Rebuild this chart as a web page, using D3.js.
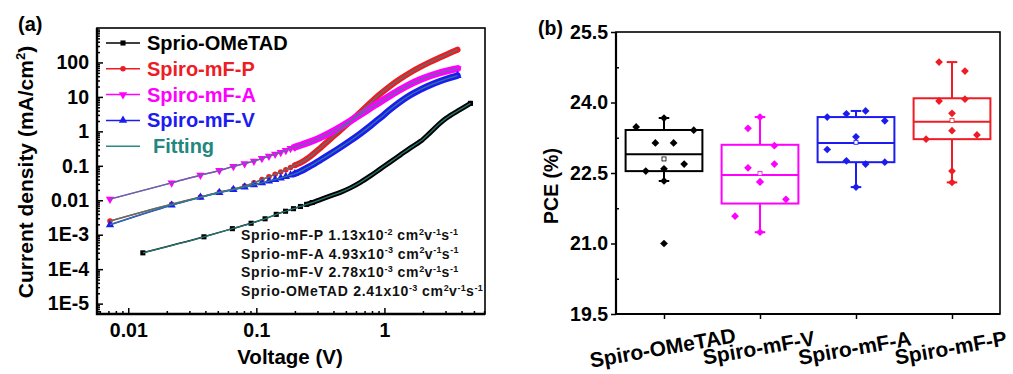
<!DOCTYPE html>
<html><head><meta charset="utf-8">
<script src="https://cdn.jsdelivr.net/npm/d3@7"></script>
<style>
body{margin:0;background:#fff;}
svg{display:block;font-family:"Liberation Sans",Arial,sans-serif;font-weight:bold;}
</style></head><body>
<svg id="c" width="1013" height="374"></svg>
<script>
// ---------- Panel (a) data: J-V curves (V in volts, J in mA/cm2) ----------
const seriesNames = ["Sprio-OMeTAD", "Spiro-mF-P", "Spiro-mF-A", "Spiro-mF-V"];
const seriesColors = ["#000000", "#ee1c24", "#ff00ff", "#1c1cf0"];
const markerShapes = ["square", "circle", "triangleDown", "triangleUp"];
const vOMeTAD = [0.013,0.039,0.065,0.091,0.117,0.143,0.169,0.195,0.221,0.247,0.273,0.3162,0.3786,0.4532,0.5425,0.6494,0.7774,0.9306,1.114,1.334,1.596,1.911,2.287,2.738,2.996,3.278,3.924,4.698];
const jOMeTAD = [2.98e-4,8.7e-4,1.5e-3,2.15e-3,2.9e-3,3.9e-3,4.8e-3,5.7e-3,6.6e-3,7.6e-3,8.6e-3,0.0105,0.0134,0.017,0.0229,0.0331,0.0511,0.0815,0.13,0.208,0.332,0.513,0.935,1.765,2.306,2.913,4.35,6.5];
const vSpiroMf = [0.0072,0.0218,0.0366,0.0514,0.0662,0.081,0.0958,0.1106,0.1254,0.1402,0.155,0.17,0.185,0.2,0.2207,0.2642,0.3162,0.3786,0.4532,0.5425,0.6494,0.7774,0.9306,1.114,1.334,1.596,1.911,2.287,2.738,3.278,3.72];
const jMfP = [0.0025,0.0077,0.0124,0.0172,0.021,0.026,0.032,0.04,0.048,0.057,0.066,0.077,0.09,0.104,0.1218,0.188,0.33,0.6,1.07,1.95,3.6,6.8,12.3,21,33.5,51,74,104,141,190,235];
const jMfA = [0.0108,0.032,0.0535,0.073,0.096,0.116,0.137,0.163,0.19,0.218,0.245,0.28,0.32,0.35,0.3946,0.4986,0.6588,0.919,1.341,2.009,3.066,4.72,7.27,10.99,16.33,23.4,31.8,41.2,50.7,60.1,66.5];
const jMfV = [0.00195,0.0072,0.0121,0.0168,0.0205,0.024,0.028,0.032,0.036,0.04,0.044,0.049,0.054,0.059,0.0691,0.099,0.147,0.2224,0.3423,0.5368,0.8646,1.443,2.498,4.363,7.285,11.31,16.36,22.21,28.83,36.08,41.75];
const xTickVals = [0.01, 0.1, 1];
const xTickLabels = ["0.01", "0.1", "1"];
const yTickVals = [1e-5, 1e-4, 1e-3, 0.01, 0.1, 1, 10, 100];
const yTickLabels = ["1E-5", "1E-4", "1E-3", "0.01", "0.1", "1", "10", "100"];
const mobLabels = ["Sprio-mF-P", "Sprio-mF-A", "Sprio-mF-V", "Sprio-OMeTAD"];
const mobMantissa = ["1.13", "4.93", "2.78", "2.41"];
const mobExponent = ["-2", "-3", "-3", "-3"];

// ---------- Panel (b) data: PCE box plots ----------
const groups = ["Spiro-OMeTAD", "Spiro-mF-V", "Spiro-mF-A", "Spiro-mF-P"];
const groupColors = ["#000000", "#ff00ff", "#1c1cf0", "#ee1c24"];
const pceOMeTAD = [23.48,23.67,23.41,23.14,23.14,22.54,22.59,22.69,22.33,21.0];
const pceMfV = [23.45,23.69,23.08,22.61,22.69,22.31,21.94,21.58,21.24,22.31];
const pceMfA = [23.69,23.76,23.82,23.61,23.27,23.0,22.76,22.69,22.73,22.2];
const pceMfP = [24.86,24.67,24.03,24.07,23.77,23.4,23.22,23.31,22.54,22.3];
const jitOMeTAD = [-0.29,0,0.31,-0.09,0.1,-0.19,0,0.21,0,0];
const jitMfV = [-0.125,0,0.15,-0.125,0.15,0,0.27,-0.26,0,0];
const jitMfA = [-0.3,-0.1,0.1,0.3,0,-0.3,-0.1,0.1,0.3,0];
const jitMfP = [-0.135,0.135,-0.135,0.135,0,0,-0.27,0.26,0,0];
const boxQ1 = [22.54, 21.85, 22.73, 23.22];
const boxMedian = [22.9, 22.46, 23.14, 23.59];
const boxQ3 = [23.415, 23.1, 23.69, 24.09];
const whiskerLow = [22.33, 21.24, 22.2, 22.3];
const whiskerHigh = [23.67, 23.69, 23.82, 24.86];
const pceTicks = [19.5, 21.0, 22.5, 24.0, 25.5];
const pceMinor = [20.25, 21.75, 23.25, 24.75];

const svg = d3.select("#c");

// ================= Panel (a) =================
const A = {l: 97, r: 485, t: 28, b: 314};
const x = d3.scaleLog().domain([0.0057, 6.1]).range([A.l, A.r]);
const y = d3.scaleLog().domain([5e-6, 1000]).range([A.b, A.t]);

svg.append("clipPath").attr("id", "clipA").append("rect")
  .attr("x", A.l).attr("y", A.t).attr("width", A.r - A.l).attr("height", A.b - A.t);

const xMinor = [];
[0.001, 0.01, 0.1, 1].forEach(d => { for (let k = 2; k <= 9; k++) { const v = d * k; if (v > 0.0057 && v < 6.1) xMinor.push(v); } });
const yMinor = [];
[1e-6, 1e-5, 1e-4, 1e-3, 0.01, 0.1, 1, 10, 100].forEach(d => { for (let k = 2; k <= 9; k++) { const v = d * k; if (v > 5e-6 && v < 1000) yMinor.push(v); } });

const gA = svg.append("g");
gA.append("g").attr("transform", `translate(${A.l},0)`)
  .call(d3.axisLeft(y).tickValues(yTickVals).tickFormat((d, i) => yTickLabels[i]).tickSizeInner(-6).tickSizeOuter(0).tickPadding(8));
gA.append("g").attr("transform", `translate(${A.l},0)`)
  .call(d3.axisLeft(y).tickValues(yMinor).tickFormat("").tickSizeInner(-3).tickSizeOuter(0));
gA.append("g").attr("transform", `translate(0,${A.b})`)
  .call(d3.axisBottom(x).tickValues(xTickVals).tickFormat((d, i) => xTickLabels[i]).tickSizeInner(-6).tickSizeOuter(0).tickPadding(9));
gA.append("g").attr("transform", `translate(0,${A.b})`)
  .call(d3.axisBottom(x).tickValues(xMinor).tickFormat("").tickSizeInner(-3).tickSizeOuter(0));
gA.selectAll(".domain").remove();
gA.selectAll(".tick line").attr("stroke", "#000").attr("stroke-width", 1.5);
gA.selectAll(".tick text").attr("font-size", 19.5).attr("font-weight", "bold").attr("font-family", "Liberation Sans, Arial, sans-serif").attr("fill", "#000");

gA.append("rect").attr("x", A.l).attr("y", A.t).attr("width", A.r - A.l).attr("height", A.b - A.t)
  .attr("fill", "none").attr("stroke", "#000").attr("stroke-width", 1.6);
gA.append("path").attr("d", `M${A.l},${A.t}V${A.b}H${A.r}`).attr("fill", "none").attr("stroke", "#000").attr("stroke-width", 2.4);

function markerPath(shape, size) {
  if (shape === "square") return d3.symbol(d3.symbolSquare, size)();
  if (shape === "circle") return d3.symbol(d3.symbolCircle, size)();
  return d3.symbol(d3.symbolTriangle, size)();
}
const markerSize = {square: 26, circle: 24, triangleDown: 30, triangleUp: 30};
const bandWidths = [5, 6, 7, 6.5];
const bandStart = [0.24, 0.19, 0.19, 0.19];
const markerMax = [0.28, 0.21, 0.21, 0.21];

const seriesV = [vOMeTAD, vSpiroMf, vSpiroMf, vSpiroMf];
const seriesJ = [jOMeTAD, jMfP, jMfA, jMfV];
const series = seriesNames.map((n, i) => ({
  name: n, color: seriesColors[i], shape: markerShapes[i],
  pts: seriesV[i].map((v, k) => ({v, j: seriesJ[i][k]}))
}));
const line = d3.line().x(d => x(d.v)).y(d => y(d.j)).curve(d3.curveMonotoneX);
const plotA = svg.append("g").attr("clip-path", "url(#clipA)");

series.forEach((s, i) => {
  const g = plotA.append("g");
  g.append("path").datum(s.pts).attr("d", line).attr("fill", "none").attr("stroke", s.color).attr("stroke-width", 1.5);
  g.append("path").datum(s.pts.filter(d => d.v >= bandStart[i])).attr("d", line).attr("fill", "none")
    .attr("stroke", s.color).attr("stroke-width", bandWidths[i]).attr("stroke-linecap", "round").attr("stroke-linejoin", "round");
  const mk = s.pts.filter((d, k) => d.v <= markerMax[i] || k === s.pts.length - 1);
  g.selectAll("path.mk").data(mk).join("path").attr("class", "mk")
    .attr("d", markerPath(s.shape, markerSize[s.shape]))
    .attr("transform", d => `translate(${x(d.v)},${y(d.j)})` + (s.shape === "triangleDown" ? " rotate(180)" : ""))
    .attr("fill", s.color);
});
const fitColor = "#2b8a84";
series.forEach(s => {
  plotA.append("path").datum(s.pts).attr("d", line).attr("fill", "none").attr("stroke", fitColor)
    .attr("stroke-width", 1.3).attr("stroke-opacity", 0.85);
});

// legend (a)
const legY0 = 43, legStep = 25.8;
series.forEach((s, i) => {
  const yy = legY0 + i * legStep;
  gA.append("line").attr("x1", 106).attr("x2", 140).attr("y1", yy).attr("y2", yy).attr("stroke", s.color).attr("stroke-width", 1.5);
  gA.append("path").attr("d", markerPath(s.shape, markerSize[s.shape]))
    .attr("transform", `translate(123,${yy})` + (s.shape === "triangleDown" ? " rotate(180)" : "")).attr("fill", s.color);
  gA.append("text").attr("x", 147).attr("y", yy + 7).attr("font-size", 20).attr("fill", s.color).text(s.name);
});
{
  const yy = legY0 + 4 * legStep;
  gA.append("line").attr("x1", 106).attr("x2", 140).attr("y1", yy).attr("y2", yy).attr("stroke", fitColor).attr("stroke-width", 1.5);
  gA.append("text").attr("x", 153).attr("y", yy + 7).attr("font-size", 20).attr("fill", "#23877f").text("Fitting");
}

// mobility annotation
mobLabels.forEach((lab, i) => {
  const t = gA.append("text").attr("x", 241).attr("y", 240 + i * 18.7).attr("font-size", 14)
    .attr("letter-spacing", 0.75).attr("fill", "#111");
  const sup = (txt) => { t.append("tspan").attr("dy", -5.5).attr("font-size", 9).attr("letter-spacing", 0.2).text(txt); };
  const base = (txt) => { t.append("tspan").attr("dy", 5.5).text(txt); };
  t.append("tspan").text(`${lab} ${mobMantissa[i]}x10`);
  sup(mobExponent[i]); base(" cm"); sup("2"); base("v"); sup("-1"); base("s"); sup("-1");
});

// titles (a)
svg.append("text").attr("x", 18).attr("y", 31).attr("font-size", 20).text("(a)");
const yl = svg.append("text").attr("transform", "translate(33,172) rotate(-90)").attr("text-anchor", "middle").attr("font-size", 21);
yl.append("tspan").text("Current density (mA/cm");
yl.append("tspan").attr("dy", -8).attr("font-size", 13).text("2");
yl.append("tspan").attr("dy", 8).text(")");
svg.append("text").attr("x", 290).attr("y", 364).attr("text-anchor", "middle").attr("font-size", 20.5).text("Voltage (V)");

// ================= Panel (b) =================
const B = {l: 616, r: 1000, t: 32, b: 314};
const xb = d3.scaleLinear().domain([0.5, 4.5]).range([B.l, B.r]);
const yb = d3.scaleLinear().domain([19.5, 25.5]).range([B.b, B.t]);
const gB = svg.append("g");
gB.append("g").attr("transform", `translate(${B.l},0)`)
  .call(d3.axisLeft(yb).tickValues(pceTicks).tickFormat(d3.format(".1f")).tickSizeInner(5).tickSizeOuter(0).tickPadding(3));
gB.append("g").attr("transform", `translate(${B.l},0)`)
  .call(d3.axisLeft(yb).tickValues(pceMinor).tickFormat("").tickSizeInner(-3).tickSizeOuter(0));
gB.append("g").attr("transform", `translate(0,${B.b})`)
  .call(d3.axisBottom(xb).tickValues([1, 2, 3, 4]).tickFormat("").tickSizeInner(5).tickSizeOuter(0));
gB.selectAll(".domain").remove();
gB.selectAll(".tick line").attr("stroke", "#000").attr("stroke-width", 1.5);
gB.selectAll(".tick text").attr("font-size", 19.5).attr("font-weight", "bold").attr("font-family", "Liberation Sans, Arial, sans-serif").attr("fill", "#000");
gB.append("rect").attr("x", B.l).attr("y", B.t).attr("width", B.r - B.l).attr("height", B.b - B.t)
  .attr("fill", "none").attr("stroke", "#000").attr("stroke-width", 1.6);
gB.append("path").attr("d", `M${B.l},${B.t}V${B.b}H${B.r}`).attr("fill", "none").attr("stroke", "#000").attr("stroke-width", 2.2);

// category labels
groups.forEach((gname, i) => {
  gB.append("text").attr("transform", `translate(${xb(i + 1)},355) rotate(-10)`)
    .attr("text-anchor", "middle").attr("font-size", 21).text(gname);
});

const pceData = [pceOMeTAD, pceMfV, pceMfA, pceMfP];
const jitData = [jitOMeTAD, jitMfV, jitMfA, jitMfP];
const halfW = 0.4, capHalf = 0.055;
groups.forEach((gname, i) => {
  const c = groupColors[i], cx = i + 1;
  const g = gB.append("g").attr("stroke", c).attr("stroke-width", 2).attr("fill", "none");
  g.append("line").attr("x1", xb(cx)).attr("x2", xb(cx)).attr("y1", yb(boxQ3[i])).attr("y2", yb(whiskerHigh[i]));
  g.append("line").attr("x1", xb(cx)).attr("x2", xb(cx)).attr("y1", yb(boxQ1[i])).attr("y2", yb(whiskerLow[i]));
  g.append("line").attr("x1", xb(cx - capHalf)).attr("x2", xb(cx + capHalf)).attr("y1", yb(whiskerHigh[i])).attr("y2", yb(whiskerHigh[i]));
  g.append("line").attr("x1", xb(cx - capHalf)).attr("x2", xb(cx + capHalf)).attr("y1", yb(whiskerLow[i])).attr("y2", yb(whiskerLow[i]));
  g.append("rect").attr("x", xb(cx - halfW)).attr("y", yb(boxQ3[i])).attr("width", xb(cx + halfW) - xb(cx - halfW))
    .attr("height", yb(boxQ1[i]) - yb(boxQ3[i]));
  g.append("line").attr("x1", xb(cx - halfW)).attr("x2", xb(cx + halfW)).attr("y1", yb(boxMedian[i])).attr("y2", yb(boxMedian[i]));
  const m = d3.mean(pceData[i]);
  gB.append("rect").attr("x", xb(cx) - 2).attr("y", yb(m) - 2).attr("width", 4).attr("height", 4)
    .attr("fill", "#fff").attr("stroke", c).attr("stroke-width", 0.8);
  gB.selectAll(null).data(pceData[i].map((v, k) => ({v, o: jitData[i][k]}))).join("path")
    .attr("d", d3.symbol(d3.symbolSquare, 30)())
    .attr("transform", d => `translate(${xb(cx + d.o)},${yb(d.v)}) rotate(45)`)
    .attr("fill", c);
});

svg.append("text").attr("x", 538).attr("y", 35).attr("font-size", 19.5).text("(b)");
svg.append("text").attr("transform", "translate(558,186) rotate(-90)").attr("text-anchor", "middle").attr("font-size", 19.5).text("PCE (%)");
</script>
</body></html>
